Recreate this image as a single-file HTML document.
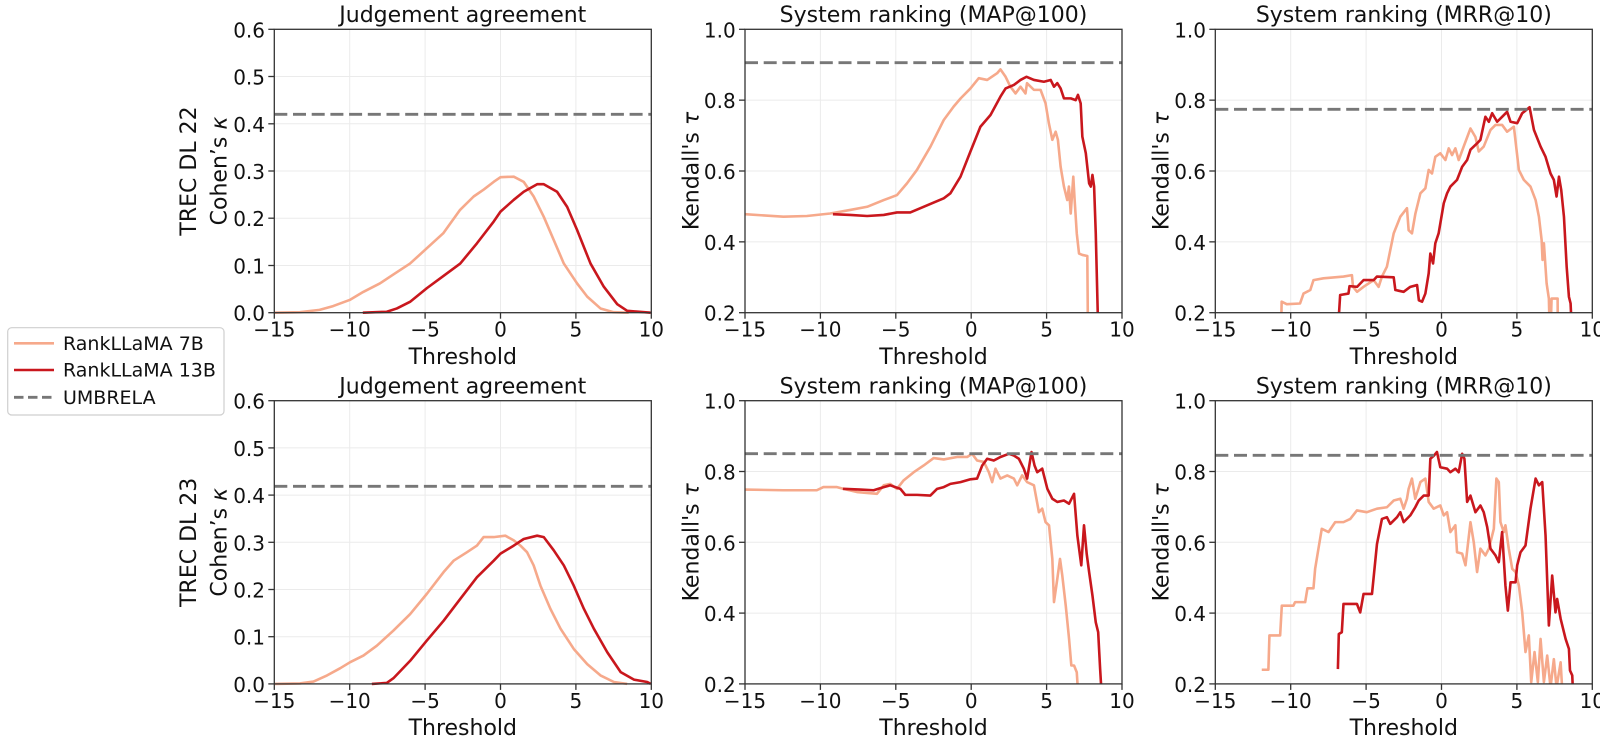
<!DOCTYPE html>
<html><head><meta charset="utf-8"><style>
html,body{margin:0;padding:0;background:#fff;}
svg{display:block;}
text{font-family:"DejaVu Sans","Liberation Sans",sans-serif;fill:#111;}
.tk{font-size:20px;}
.lb{font-size:22px;}
.lg{font-size:19px;}
.grid{stroke:#ebebeb;stroke-width:1;}
.sp{fill:none;stroke:#333;stroke-width:1.3;}
.tm{stroke:#333;stroke-width:1.3;}
.l7{fill:none;stroke:#f6a98b;stroke-width:2.6;stroke-linejoin:round;vector-effect:non-scaling-stroke;}
.l13{fill:none;stroke:#c9171d;stroke-width:2.6;stroke-linejoin:round;vector-effect:non-scaling-stroke;}
.um{stroke:#777;stroke-width:2.8;stroke-dasharray:13 5.7;}
</style></head><body>
<svg width="1600" height="742" viewBox="0 0 1600 742" xmlns="http://www.w3.org/2000/svg">
<rect width="1600" height="742" fill="#fff"/>

<!-- ============ GRIDS ============ -->
<g class="grid">
<!-- panel 1 -->
<line x1="349.7" y1="29.3" x2="349.7" y2="312.7"/><line x1="425.1" y1="29.3" x2="425.1" y2="312.7"/><line x1="500.5" y1="29.3" x2="500.5" y2="312.7"/><line x1="575.9" y1="29.3" x2="575.9" y2="312.7"/>
<line x1="274.3" y1="76.5" x2="651.3" y2="76.5"/><line x1="274.3" y1="123.8" x2="651.3" y2="123.8"/><line x1="274.3" y1="171" x2="651.3" y2="171"/><line x1="274.3" y1="218.2" x2="651.3" y2="218.2"/><line x1="274.3" y1="265.5" x2="651.3" y2="265.5"/>
<!-- panel 2 -->
<line x1="820.4" y1="29.3" x2="820.4" y2="312.7"/><line x1="895.8" y1="29.3" x2="895.8" y2="312.7"/><line x1="971.2" y1="29.3" x2="971.2" y2="312.7"/><line x1="1046.6" y1="29.3" x2="1046.6" y2="312.7"/>
<line x1="745" y1="100.15" x2="1122" y2="100.15"/><line x1="745" y1="171" x2="1122" y2="171"/><line x1="745" y1="241.85" x2="1122" y2="241.85"/>
<!-- panel 3 -->
<line x1="1290.7" y1="29.3" x2="1290.7" y2="312.7"/><line x1="1366.1" y1="29.3" x2="1366.1" y2="312.7"/><line x1="1441.5" y1="29.3" x2="1441.5" y2="312.7"/><line x1="1516.9" y1="29.3" x2="1516.9" y2="312.7"/>
<line x1="1215.3" y1="100.15" x2="1592.3" y2="100.15"/><line x1="1215.3" y1="171" x2="1592.3" y2="171"/><line x1="1215.3" y1="241.85" x2="1592.3" y2="241.85"/>
<!-- panel 4 -->
<line x1="349.7" y1="400.7" x2="349.7" y2="683.9"/><line x1="425.1" y1="400.7" x2="425.1" y2="683.9"/><line x1="500.5" y1="400.7" x2="500.5" y2="683.9"/><line x1="575.9" y1="400.7" x2="575.9" y2="683.9"/>
<line x1="274.3" y1="447.9" x2="651.3" y2="447.9"/><line x1="274.3" y1="495.1" x2="651.3" y2="495.1"/><line x1="274.3" y1="542.3" x2="651.3" y2="542.3"/><line x1="274.3" y1="589.5" x2="651.3" y2="589.5"/><line x1="274.3" y1="636.7" x2="651.3" y2="636.7"/>
<!-- panel 5 -->
<line x1="820.4" y1="400.7" x2="820.4" y2="683.9"/><line x1="895.8" y1="400.7" x2="895.8" y2="683.9"/><line x1="971.2" y1="400.7" x2="971.2" y2="683.9"/><line x1="1046.6" y1="400.7" x2="1046.6" y2="683.9"/>
<line x1="745" y1="471.5" x2="1122" y2="471.5"/><line x1="745" y1="542.3" x2="1122" y2="542.3"/><line x1="745" y1="613.1" x2="1122" y2="613.1"/>
<!-- panel 6 -->
<line x1="1290.7" y1="400.7" x2="1290.7" y2="683.9"/><line x1="1366.1" y1="400.7" x2="1366.1" y2="683.9"/><line x1="1441.5" y1="400.7" x2="1441.5" y2="683.9"/><line x1="1516.9" y1="400.7" x2="1516.9" y2="683.9"/>
<line x1="1215.3" y1="471.5" x2="1592.3" y2="471.5"/><line x1="1215.3" y1="542.3" x2="1592.3" y2="542.3"/><line x1="1215.3" y1="613.1" x2="1592.3" y2="613.1"/>
</g>

<!-- ============ DATA ============ -->
<!-- Panel 1 -->
<svg x="274.3" y="29.3" width="377" height="283.4" viewBox="-15 -0.6 25 0.6" preserveAspectRatio="none" overflow="visible">
<polyline class="l7" points="-15,0 -13.3,-0.001 -12,-0.006 -11.1,-0.014 -10,-0.027 -9.1,-0.044 -8,-0.062 -7.1,-0.081 -6,-0.104 -4.9,-0.136 -3.8,-0.168 -2.7,-0.217 -1.78,-0.246 -1.1,-0.261 -0.45,-0.277 0,-0.287 0.88,-0.288 1.54,-0.277 2.2,-0.246 2.87,-0.203 3.53,-0.154 4.2,-0.104 5.08,-0.062 5.75,-0.034 6.63,-0.009 7.5,-0.001 8.5,0"/>
<polyline class="l13" points="-9.13,0 -7.54,-0.002 -6.87,-0.009 -6,-0.023 -4.88,-0.052 -3.77,-0.078 -2.67,-0.104 -1.56,-0.147 -0.45,-0.193 0,-0.214 0.88,-0.239 1.54,-0.256 2.43,-0.272 2.87,-0.272 3.75,-0.256 4.42,-0.224 5.08,-0.175 5.97,-0.104 6.85,-0.055 7.74,-0.018 8.4,-0.004 9.95,0"/>
</svg>
<!-- Panel 2 -->
<svg x="745" y="29.3" width="377" height="283.4" viewBox="-15 -1.0 25 0.8" preserveAspectRatio="none">
<polyline class="l7" points="-15,-0.478 -12.45,-0.471 -10.9,-0.473 -9.35,-0.48 -8.02,-0.49 -6.9,-0.499 -5.8,-0.518 -4.92,-0.532 -4.26,-0.565 -3.6,-0.603 -2.7,-0.669 -1.82,-0.744 -1.16,-0.782 -0.7,-0.805 -0.05,-0.833 0.5,-0.862 1.06,-0.857 1.72,-0.876 1.94,-0.887 2.28,-0.866 2.6,-0.838 2.94,-0.819 3.27,-0.838 3.6,-0.819 3.7,-0.848 4.16,-0.829 4.6,-0.829 4.93,-0.791 5.15,-0.735 5.38,-0.688 5.6,-0.711 5.75,-0.688 5.93,-0.612 6.15,-0.556 6.37,-0.518 6.48,-0.556 6.6,-0.48 6.77,-0.584 6.86,-0.518 7.0,-0.424 7.15,-0.367 7.37,-0.363 7.7,-0.36 7.75,-0.1"/>
<polyline class="l13" points="-9.17,-0.478 -8.02,-0.476 -6.9,-0.473 -5.8,-0.476 -4.92,-0.483 -4.04,-0.483 -3.37,-0.495 -2.49,-0.511 -1.82,-0.523 -1.38,-0.537 -0.71,-0.584 -0.05,-0.655 0.61,-0.725 1.28,-0.758 1.94,-0.81 2.28,-0.833 2.83,-0.843 3.27,-0.857 3.67,-0.866 4.16,-0.857 4.82,-0.852 5.27,-0.857 5.49,-0.838 5.71,-0.848 5.93,-0.833 6.15,-0.805 6.6,-0.805 6.93,-0.8 7.08,-0.815 7.26,-0.791 7.37,-0.697 7.6,-0.65 7.82,-0.565 7.93,-0.556 8.04,-0.589 8.15,-0.556 8.26,-0.424 8.45,-0.1"/>
</svg>
<!-- Panel 3 -->
<svg x="1215.3" y="29.3" width="377" height="283.4" viewBox="-15 -1.0 25 0.8" preserveAspectRatio="none">
<polyline class="l7" points="-10.66,-0.1 -10.6,-0.231 -10.26,-0.224 -9.38,-0.226 -9.15,-0.254 -8.7,-0.264 -8.49,-0.292 -7.83,-0.297 -6.5,-0.302 -5.94,-0.306 -5.87,-0.273 -5.6,-0.259 -5.17,-0.273 -4.5,-0.292 -4.17,-0.273 -3.95,-0.302 -3.62,-0.33 -3.17,-0.424 -2.73,-0.471 -2.29,-0.495 -2.18,-0.433 -1.96,-0.424 -1.73,-0.48 -1.4,-0.537 -1.07,-0.551 -0.85,-0.603 -0.63,-0.593 -0.41,-0.64 -0.08,-0.65 0.26,-0.631 0.48,-0.664 0.7,-0.645 0.92,-0.664 1.14,-0.631 1.47,-0.669 1.92,-0.72 2.25,-0.696 2.47,-0.655 2.8,-0.669 3.25,-0.716 3.58,-0.73 4.02,-0.73 4.35,-0.711 4.8,-0.725 5.13,-0.603 5.46,-0.575 5.9,-0.556 6.24,-0.518 6.46,-0.471 6.64,-0.405 6.7,-0.349 6.79,-0.396 6.97,-0.283 7.12,-0.24 7.2,-0.1 7.3,-0.24 7.7,-0.24 7.72,-0.1"/>
<polyline class="l13" points="-6.94,-0.1 -6.72,-0.25 -6.17,-0.254 -6.1,-0.275 -5.6,-0.273 -5.17,-0.292 -4.5,-0.292 -4.28,-0.302 -3.17,-0.3 -3.06,-0.264 -2.51,-0.259 -2.07,-0.273 -1.62,-0.278 -1.5,-0.235 -1.29,-0.231 -1.07,-0.254 -0.85,-0.311 -0.74,-0.367 -0.56,-0.339 -0.41,-0.396 -0.19,-0.424 0.15,-0.509 0.37,-0.537 0.59,-0.556 1.03,-0.575 1.37,-0.612 1.7,-0.631 1.92,-0.66 2.36,-0.678 2.58,-0.688 2.91,-0.753 3.14,-0.739 3.36,-0.763 3.69,-0.739 4.02,-0.753 4.35,-0.767 4.58,-0.739 5.02,-0.735 5.35,-0.763 5.84,-0.78 6.13,-0.716 6.57,-0.669 6.9,-0.64 7.23,-0.593 7.45,-0.575 7.63,-0.528 7.79,-0.584 7.94,-0.546 8.12,-0.471 8.3,-0.33 8.45,-0.245 8.56,-0.226 8.7,-0.1"/>
</svg>
<!-- Panel 4 -->
<svg x="274.3" y="400.7" width="377" height="283.2" viewBox="-15 -0.6 25 0.6" preserveAspectRatio="none" overflow="visible">
<polyline class="l7" points="-15,0 -13.3,-0.001 -12.4,-0.005 -11.5,-0.018 -10.64,-0.033 -9.97,-0.046 -9.09,-0.06 -8.2,-0.081 -7.1,-0.113 -5.99,-0.148 -4.88,-0.191 -3.77,-0.237 -3.11,-0.261 -2.22,-0.279 -1.56,-0.293 -1.12,-0.311 -0.45,-0.311 0.32,-0.314 0.88,-0.304 1.32,-0.293 1.76,-0.279 2.2,-0.251 2.65,-0.208 3.31,-0.159 3.98,-0.117 4.86,-0.074 5.75,-0.042 6.63,-0.018 7.52,-0.004 8.4,0"/>
<polyline class="l13" points="-8.53,0 -7.54,-0.002 -7.1,-0.012 -5.99,-0.049 -4.88,-0.092 -3.77,-0.134 -2.67,-0.18 -1.56,-0.226 -0.45,-0.261 0,-0.276 0.88,-0.293 1.54,-0.307 2.43,-0.314 2.87,-0.311 3.53,-0.283 4.2,-0.251 4.86,-0.208 5.53,-0.159 6.19,-0.117 7.08,-0.067 7.97,-0.025 8.85,-0.009 9.73,-0.004 9.96,0"/>
</svg>
<!-- Panel 5 -->
<svg x="745" y="400.7" width="377" height="283.2" viewBox="-15 -1.0 25 0.8" preserveAspectRatio="none">
<polyline class="l7" points="-15,-0.749 -12.45,-0.747 -10.24,-0.747 -9.8,-0.756 -8.9,-0.756 -8.47,-0.751 -7.58,-0.742 -6.25,-0.737 -5.8,-0.761 -5.37,-0.765 -4.92,-0.751 -4.48,-0.775 -3.81,-0.798 -3.15,-0.817 -2.49,-0.838 -1.82,-0.834 -0.94,-0.841 -0.27,-0.841 0.06,-0.85 0.39,-0.831 0.84,-0.827 1.17,-0.798 1.39,-0.77 1.61,-0.808 1.94,-0.78 2.39,-0.789 2.83,-0.78 3.05,-0.761 3.38,-0.789 3.71,-0.77 4.16,-0.761 4.49,-0.685 4.71,-0.695 4.93,-0.657 5.16,-0.648 5.38,-0.553 5.49,-0.431 5.71,-0.497 5.89,-0.553 6.04,-0.506 6.27,-0.421 6.49,-0.327 6.64,-0.252 6.82,-0.252 7.0,-0.233 7.2,-0.1"/>
<polyline class="l13" points="-8.51,-0.751 -7.36,-0.749 -6.47,-0.747 -5.8,-0.756 -5.37,-0.761 -4.7,-0.751 -4.37,-0.734 -3.59,-0.734 -2.71,-0.732 -2.26,-0.751 -1.82,-0.756 -1.38,-0.765 -0.71,-0.77 -0.05,-0.778 0.39,-0.78 0.73,-0.817 1.06,-0.836 1.5,-0.831 1.94,-0.841 2.5,-0.85 2.83,-0.845 3.16,-0.836 3.49,-0.808 3.71,-0.78 4.0,-0.855 4.2,-0.817 4.38,-0.798 4.71,-0.808 5.05,-0.751 5.38,-0.723 5.71,-0.714 6.15,-0.718 6.49,-0.709 6.82,-0.737 7.04,-0.619 7.3,-0.535 7.48,-0.648 7.66,-0.567 7.82,-0.516 8.04,-0.45 8.26,-0.374 8.42,-0.346 8.55,-0.242 8.75,-0.1"/>
</svg>
<!-- Panel 6 -->
<svg x="1215.3" y="400.7" width="377" height="283.2" viewBox="-15 -1.0 25 0.8" preserveAspectRatio="none">
<polyline class="l7" points="-11.92,-0.24 -11.48,-0.24 -11.41,-0.337 -10.7,-0.337 -10.59,-0.421 -9.82,-0.421 -9.71,-0.431 -9.04,-0.431 -8.89,-0.47 -8.49,-0.47 -8.38,-0.525 -8.16,-0.582 -7.94,-0.638 -7.49,-0.629 -7.05,-0.657 -6.5,-0.657 -6.05,-0.666 -5.61,-0.69 -4.95,-0.685 -4.28,-0.695 -3.62,-0.699 -3.17,-0.718 -2.73,-0.723 -2.51,-0.695 -2.29,-0.723 -2.18,-0.751 -1.96,-0.78 -1.74,-0.723 -1.4,-0.77 -1.07,-0.78 -0.85,-0.714 -0.52,-0.695 -0.08,-0.704 0.15,-0.676 0.37,-0.685 0.59,-0.629 0.92,-0.648 1.03,-0.572 1.37,-0.568 1.59,-0.535 1.92,-0.657 2.14,-0.6 2.36,-0.516 2.58,-0.582 2.91,-0.563 3.14,-0.582 3.47,-0.638 3.64,-0.78 3.8,-0.77 3.91,-0.657 4.13,-0.629 4.24,-0.648 4.46,-0.582 4.69,-0.525 4.91,-0.516 5.13,-0.478 5.35,-0.403 5.57,-0.29 5.79,-0.337 5.95,-0.205 6.17,-0.29 6.39,-0.205 6.57,-0.327 6.79,-0.205 7.01,-0.28 7.23,-0.19 7.45,-0.27 7.63,-0.19 7.9,-0.261 8.12,-0.1"/>
<polyline class="l13" points="-6.87,-0.242 -6.81,-0.341 -6.61,-0.346 -6.5,-0.426 -5.61,-0.426 -5.39,-0.402 -5.17,-0.454 -4.61,-0.454 -4.28,-0.595 -3.95,-0.666 -3.62,-0.671 -3.4,-0.652 -2.95,-0.671 -2.73,-0.685 -2.51,-0.657 -2.07,-0.676 -1.74,-0.699 -1.51,-0.718 -1.18,-0.732 -0.85,-0.732 -0.74,-0.836 -0.52,-0.844 -0.3,-0.855 -0.08,-0.812 0.37,-0.808 0.59,-0.798 0.92,-0.808 1.14,-0.798 1.37,-0.85 1.52,-0.836 1.7,-0.714 1.92,-0.732 2.25,-0.685 2.58,-0.704 2.8,-0.685 3.03,-0.643 3.25,-0.582 3.58,-0.563 3.8,-0.544 4.02,-0.629 4.24,-0.478 4.4,-0.407 4.58,-0.487 4.91,-0.487 5.02,-0.535 5.24,-0.572 5.57,-0.591 5.9,-0.695 6.24,-0.78 6.46,-0.761 6.68,-0.77 6.9,-0.619 7.12,-0.365 7.34,-0.506 7.56,-0.402 7.67,-0.44 7.9,-0.384 8.23,-0.327 8.45,-0.299 8.52,-0.238 8.67,-0.224 8.8,-0.1"/>
</svg>

<!-- UMBRELA dashed lines -->
<line class="um" x1="274.3" y1="114.3" x2="651.3" y2="114.3"/>
<line class="um" x1="745" y1="62.7" x2="1122" y2="62.7"/>
<line class="um" x1="1215.3" y1="109.3" x2="1592.3" y2="109.3"/>
<line class="um" x1="274.3" y1="486.3" x2="651.3" y2="486.3"/>
<line class="um" x1="745" y1="453.7" x2="1122" y2="453.7"/>
<line class="um" x1="1215.3" y1="455.3" x2="1592.3" y2="455.3"/>

<!-- ============ SPINES ============ -->
<rect class="sp" x="274.3" y="29.3" width="377" height="283.4"/>
<rect class="sp" x="745" y="29.3" width="377" height="283.4"/>
<rect class="sp" x="1215.3" y="29.3" width="377" height="283.4"/>
<rect class="sp" x="274.3" y="400.7" width="377" height="283.2"/>
<rect class="sp" x="745" y="400.7" width="377" height="283.2"/>
<rect class="sp" x="1215.3" y="400.7" width="377" height="283.2"/>

<!-- ============ TICK MARKS ============ -->
<g class="tm">
<!-- x ticks top row -->
<line x1="274.3" y1="312.7" x2="274.3" y2="318.7"/><line x1="349.7" y1="312.7" x2="349.7" y2="318.7"/><line x1="425.1" y1="312.7" x2="425.1" y2="318.7"/><line x1="500.5" y1="312.7" x2="500.5" y2="318.7"/><line x1="575.9" y1="312.7" x2="575.9" y2="318.7"/><line x1="651.3" y1="312.7" x2="651.3" y2="318.7"/>
<line x1="745" y1="312.7" x2="745" y2="318.7"/><line x1="820.4" y1="312.7" x2="820.4" y2="318.7"/><line x1="895.8" y1="312.7" x2="895.8" y2="318.7"/><line x1="971.2" y1="312.7" x2="971.2" y2="318.7"/><line x1="1046.6" y1="312.7" x2="1046.6" y2="318.7"/><line x1="1122" y1="312.7" x2="1122" y2="318.7"/>
<line x1="1215.3" y1="312.7" x2="1215.3" y2="318.7"/><line x1="1290.7" y1="312.7" x2="1290.7" y2="318.7"/><line x1="1366.1" y1="312.7" x2="1366.1" y2="318.7"/><line x1="1441.5" y1="312.7" x2="1441.5" y2="318.7"/><line x1="1516.9" y1="312.7" x2="1516.9" y2="318.7"/><line x1="1592.3" y1="312.7" x2="1592.3" y2="318.7"/>
<!-- x ticks bottom row -->
<line x1="274.3" y1="683.9" x2="274.3" y2="689.9"/><line x1="349.7" y1="683.9" x2="349.7" y2="689.9"/><line x1="425.1" y1="683.9" x2="425.1" y2="689.9"/><line x1="500.5" y1="683.9" x2="500.5" y2="689.9"/><line x1="575.9" y1="683.9" x2="575.9" y2="689.9"/><line x1="651.3" y1="683.9" x2="651.3" y2="689.9"/>
<line x1="745" y1="683.9" x2="745" y2="689.9"/><line x1="820.4" y1="683.9" x2="820.4" y2="689.9"/><line x1="895.8" y1="683.9" x2="895.8" y2="689.9"/><line x1="971.2" y1="683.9" x2="971.2" y2="689.9"/><line x1="1046.6" y1="683.9" x2="1046.6" y2="689.9"/><line x1="1122" y1="683.9" x2="1122" y2="689.9"/>
<line x1="1215.3" y1="683.9" x2="1215.3" y2="689.9"/><line x1="1290.7" y1="683.9" x2="1290.7" y2="689.9"/><line x1="1366.1" y1="683.9" x2="1366.1" y2="689.9"/><line x1="1441.5" y1="683.9" x2="1441.5" y2="689.9"/><line x1="1516.9" y1="683.9" x2="1516.9" y2="689.9"/><line x1="1592.3" y1="683.9" x2="1592.3" y2="689.9"/>
<!-- y ticks panel 1 -->
<line x1="268.3" y1="29.3" x2="274.3" y2="29.3"/><line x1="268.3" y1="76.5" x2="274.3" y2="76.5"/><line x1="268.3" y1="123.8" x2="274.3" y2="123.8"/><line x1="268.3" y1="171" x2="274.3" y2="171"/><line x1="268.3" y1="218.2" x2="274.3" y2="218.2"/><line x1="268.3" y1="265.5" x2="274.3" y2="265.5"/><line x1="268.3" y1="312.7" x2="274.3" y2="312.7"/>
<!-- panel 2 -->
<line x1="739" y1="29.3" x2="745" y2="29.3"/><line x1="739" y1="100.15" x2="745" y2="100.15"/><line x1="739" y1="171" x2="745" y2="171"/><line x1="739" y1="241.85" x2="745" y2="241.85"/><line x1="739" y1="312.7" x2="745" y2="312.7"/>
<!-- panel 3 -->
<line x1="1209.3" y1="29.3" x2="1215.3" y2="29.3"/><line x1="1209.3" y1="100.15" x2="1215.3" y2="100.15"/><line x1="1209.3" y1="171" x2="1215.3" y2="171"/><line x1="1209.3" y1="241.85" x2="1215.3" y2="241.85"/><line x1="1209.3" y1="312.7" x2="1215.3" y2="312.7"/>
<!-- panel 4 -->
<line x1="268.3" y1="400.7" x2="274.3" y2="400.7"/><line x1="268.3" y1="447.9" x2="274.3" y2="447.9"/><line x1="268.3" y1="495.1" x2="274.3" y2="495.1"/><line x1="268.3" y1="542.3" x2="274.3" y2="542.3"/><line x1="268.3" y1="589.5" x2="274.3" y2="589.5"/><line x1="268.3" y1="636.7" x2="274.3" y2="636.7"/><line x1="268.3" y1="683.9" x2="274.3" y2="683.9"/>
<!-- panel 5 -->
<line x1="739" y1="400.7" x2="745" y2="400.7"/><line x1="739" y1="471.5" x2="745" y2="471.5"/><line x1="739" y1="542.3" x2="745" y2="542.3"/><line x1="739" y1="613.1" x2="745" y2="613.1"/><line x1="739" y1="683.9" x2="745" y2="683.9"/>
<!-- panel 6 -->
<line x1="1209.3" y1="400.7" x2="1215.3" y2="400.7"/><line x1="1209.3" y1="471.5" x2="1215.3" y2="471.5"/><line x1="1209.3" y1="542.3" x2="1215.3" y2="542.3"/><line x1="1209.3" y1="613.1" x2="1215.3" y2="613.1"/><line x1="1209.3" y1="683.9" x2="1215.3" y2="683.9"/>
</g>

<!-- ============ TICK LABELS ============ -->
<g class="tk" text-anchor="middle">
<text x="274.3" y="336.7">−15</text><text x="349.7" y="336.7">−10</text><text x="425.1" y="336.7">−5</text><text x="500.5" y="336.7">0</text><text x="575.9" y="336.7">5</text><text x="651.3" y="336.7">10</text>
<text x="745" y="336.7">−15</text><text x="820.4" y="336.7">−10</text><text x="895.8" y="336.7">−5</text><text x="971.2" y="336.7">0</text><text x="1046.6" y="336.7">5</text><text x="1122" y="336.7">10</text>
<text x="1215.3" y="336.7">−15</text><text x="1290.7" y="336.7">−10</text><text x="1366.1" y="336.7">−5</text><text x="1441.5" y="336.7">0</text><text x="1516.9" y="336.7">5</text><text x="1592.3" y="336.7">10</text>
<text x="274.3" y="707.9">−15</text><text x="349.7" y="707.9">−10</text><text x="425.1" y="707.9">−5</text><text x="500.5" y="707.9">0</text><text x="575.9" y="707.9">5</text><text x="651.3" y="707.9">10</text>
<text x="745" y="707.9">−15</text><text x="820.4" y="707.9">−10</text><text x="895.8" y="707.9">−5</text><text x="971.2" y="707.9">0</text><text x="1046.6" y="707.9">5</text><text x="1122" y="707.9">10</text>
<text x="1215.3" y="707.9">−15</text><text x="1290.7" y="707.9">−10</text><text x="1366.1" y="707.9">−5</text><text x="1441.5" y="707.9">0</text><text x="1516.9" y="707.9">5</text><text x="1592.3" y="707.9">10</text>
</g>
<g class="tk" text-anchor="end">
<text x="265" y="37.3">0.6</text><text x="265" y="84.5">0.5</text><text x="265" y="131.8">0.4</text><text x="265" y="179">0.3</text><text x="265" y="226.2">0.2</text><text x="265" y="273.5">0.1</text><text x="265" y="320.7">0.0</text>
<text x="735.7" y="37.3">1.0</text><text x="735.7" y="108.15">0.8</text><text x="735.7" y="179">0.6</text><text x="735.7" y="249.85">0.4</text><text x="735.7" y="320.7">0.2</text>
<text x="1206" y="37.3">1.0</text><text x="1206" y="108.15">0.8</text><text x="1206" y="179">0.6</text><text x="1206" y="249.85">0.4</text><text x="1206" y="320.7">0.2</text>
<text x="265" y="408.7">0.6</text><text x="265" y="455.9">0.5</text><text x="265" y="503.1">0.4</text><text x="265" y="550.3">0.3</text><text x="265" y="597.5">0.2</text><text x="265" y="644.7">0.1</text><text x="265" y="691.9">0.0</text>
<text x="735.7" y="408.7">1.0</text><text x="735.7" y="479.5">0.8</text><text x="735.7" y="550.3">0.6</text><text x="735.7" y="621.1">0.4</text><text x="735.7" y="691.9">0.2</text>
<text x="1206" y="408.7">1.0</text><text x="1206" y="479.5">0.8</text><text x="1206" y="550.3">0.6</text><text x="1206" y="621.1">0.4</text><text x="1206" y="691.9">0.2</text>
</g>

<!-- ============ TITLES & AXIS LABELS ============ -->
<g class="lb" text-anchor="middle">
<text x="462.8" y="22">Judgement agreement</text>
<text x="933.5" y="22">System ranking (MAP@100)</text>
<text x="1403.8" y="22">System ranking (MRR@10)</text>
<text x="462.8" y="393.5">Judgement agreement</text>
<text x="933.5" y="393.5">System ranking (MAP@100)</text>
<text x="1403.8" y="393.5">System ranking (MRR@10)</text>
<text x="462.8" y="364">Threshold</text>
<text x="933.5" y="364">Threshold</text>
<text x="1403.8" y="364">Threshold</text>
<text x="462.8" y="735">Threshold</text>
<text x="933.5" y="735">Threshold</text>
<text x="1403.8" y="735">Threshold</text>
<text transform="translate(196,171) rotate(-90)">TREC DL 22</text>
<text transform="translate(226.5,171) rotate(-90)">Cohen’s <tspan font-style="italic">κ</tspan></text>
<text transform="translate(698.3,171) rotate(-90)">Kendall's <tspan font-style="italic">τ</tspan></text>
<text transform="translate(1168.3,171) rotate(-90)">Kendall's <tspan font-style="italic">τ</tspan></text>
<text transform="translate(196,542.3) rotate(-90)">TREC DL 23</text>
<text transform="translate(226.5,542.3) rotate(-90)">Cohen’s <tspan font-style="italic">κ</tspan></text>
<text transform="translate(698.3,542.3) rotate(-90)">Kendall's <tspan font-style="italic">τ</tspan></text>
<text transform="translate(1168.3,542.3) rotate(-90)">Kendall's <tspan font-style="italic">τ</tspan></text>
</g>

<!-- ============ LEGEND ============ -->
<rect x="7.7" y="327.7" width="216.3" height="87.3" rx="4" ry="4" fill="#fff" stroke="#cfcfcf" stroke-width="1.2"/>
<line x1="14" y1="343.3" x2="54" y2="343.3" stroke="#f6a98b" stroke-width="2.6"/>
<line x1="14" y1="370" x2="54" y2="370" stroke="#c9171d" stroke-width="2.6"/>
<line x1="14" y1="397.3" x2="54" y2="397.3" stroke="#777" stroke-width="2.8" stroke-dasharray="9.5 4.5"/>
<g class="lg">
<text x="63" y="350">RankLLaMA 7B</text>
<text x="63" y="376.7">RankLLaMA 13B</text>
<text x="63" y="404">UMBRELA</text>
</g>
</svg>
</body></html>
